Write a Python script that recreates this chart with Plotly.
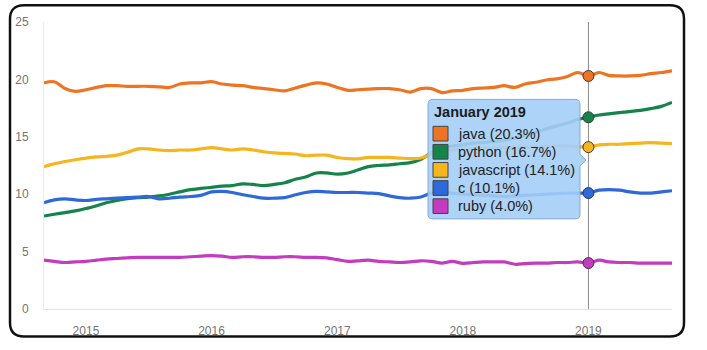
import pandas as pd
import plotly.graph_objects as go

# ---------------- data ----------------
months = pd.date_range("2014-09-01", "2019-09-01", freq="MS")

series_names = ["java", "python", "javascript", "c", "ruby"]
series_colors = ["#ee7424", "#16834a", "#f5b51f", "#2f68d8", "#c33bbf"]

java = [19.7, 19.8, 19.2, 18.95,
        19.1, 19.3, 19.45, 19.45, 19.4, 19.4, 19.4, 19.35, 19.3, 19.6, 19.7, 19.7,
        19.8, 19.6, 19.5, 19.45, 19.3, 19.2, 19.1, 19.0, 19.25, 19.5, 19.7, 19.6,
        19.3, 19.05, 19.1, 19.15, 19.2, 19.2, 19.1, 18.9, 19.2, 19.2, 18.85, 19.0,
        19.05, 19.2, 19.25, 19.3, 19.45, 19.3, 19.6, 19.75, 19.95, 20.05, 20.25, 20.6,
        20.3, 20.6, 20.35, 20.3, 20.3, 20.35, 20.5, 20.6, 20.75]
python = [8.1, 8.25, 8.4, 8.55,
          8.75, 9.0, 9.25, 9.45, 9.6, 9.7, 9.75, 9.85, 10.0, 10.2, 10.4, 10.5,
          10.6, 10.7, 10.75, 10.9, 10.85, 10.75, 10.85, 11.0, 11.3, 11.5, 11.85, 11.85,
          11.75, 11.85, 12.1, 12.4, 12.5, 12.55, 12.65, 12.75, 13.05, 13.6, 14.0, 14.2,
          14.3, 14.45, 14.5, 14.6, 14.7, 14.9, 15.1, 15.4, 15.7, 15.95, 16.2, 16.5,
          16.7, 16.9, 17.0, 17.1, 17.2, 17.3, 17.45, 17.65, 18.0]
javascript = [12.4, 12.65, 12.85, 13.0,
              13.15, 13.25, 13.3, 13.4, 13.65, 13.95, 13.95, 13.85, 13.8, 13.85, 13.85, 13.95,
              14.05, 13.95, 13.85, 13.95, 13.85, 13.7, 13.6, 13.55, 13.5, 13.35, 13.4, 13.4,
              13.2, 13.1, 13.08, 13.2, 13.2, 13.2, 13.15, 13.1, 13.15, 13.5, 13.8, 13.85,
              13.9, 13.95, 14.0, 14.0, 14.05, 14.1, 14.1, 14.15, 14.15, 14.2, 14.2, 14.15,
              14.1, 14.3, 14.35, 14.35, 14.4, 14.45, 14.5, 14.45, 14.4]
c = [9.25, 9.5, 9.6, 9.5,
     9.45, 9.55, 9.6, 9.65, 9.7, 9.75, 9.8, 9.6, 9.65, 9.75, 9.8, 9.9,
     10.2, 10.25, 10.15, 9.95, 9.8, 9.65, 9.65, 9.7, 9.95, 10.15, 10.25, 10.2,
     10.15, 10.15, 10.15, 10.1, 10.05, 9.85, 9.7, 9.65, 9.75, 10.1, 10.2, 10.1,
     10.0, 9.95, 9.9, 9.85, 9.8, 9.85, 9.9, 9.95, 10.0, 10.05, 10.1, 10.1,
     10.1, 10.35, 10.4, 10.35, 10.2, 10.1, 10.1, 10.2, 10.3]
ruby = [4.25, 4.15, 4.05, 4.1,
        4.15, 4.25, 4.35, 4.4, 4.45, 4.5, 4.5, 4.5, 4.5, 4.5, 4.55, 4.6,
        4.65, 4.6, 4.5, 4.55, 4.55, 4.5, 4.5, 4.55, 4.55, 4.5, 4.5, 4.45,
        4.3, 4.15, 4.2, 4.25, 4.15, 4.1, 4.05, 4.1, 4.2, 4.15, 4.0, 4.15,
        3.98, 4.05, 4.1, 4.1, 4.1, 3.9, 3.95, 4.0, 4.0, 4.05, 4.05, 4.1,
        4.0, 4.25, 4.1, 4.05, 4.05, 4.0, 4.0, 4.0, 4.0]

series_values = [java, python, javascript, c, ruby]

highlight_month = pd.Timestamp("2019-01-01")
highlight_title = "January 2019"
y_ticks = [0, 5, 10, 15, 20, 25]
x_ticks = ["2015-01-01", "2016-01-01", "2017-01-01", "2018-01-01", "2019-01-01"]
x_ticklabels = ["2015", "2016", "2017", "2018", "2019"]

# ---------------- layout helpers ----------------
W, H = 707, 350
L, R, T, B = 44, 35, 22, 35


def px(xp):
    return (xp - L) / (W - L - R)


def py(yp):
    return (H - B - yp) / (H - T - B)


FONT = "Liberation Sans, Arial, sans-serif"

fig = go.Figure()

for name, color, vals in zip(series_names, series_colors, series_values):
    fig.add_trace(go.Scatter(
        x=months, y=vals, mode="lines", name=name,
        line=dict(color=color, width=3.2, shape="spline", smoothing=1.0),
        hoverinfo="skip", showlegend=False,
    ))

hi = list(months).index(highlight_month)
fig.add_trace(go.Scatter(
    x=[highlight_month] * len(series_names),
    y=[v[hi] for v in series_values],
    mode="markers",
    marker=dict(size=11, color=series_colors, line=dict(color="#3a3a3a", width=1)),
    hoverinfo="skip", showlegend=False,
))

shapes = []
# vertical cursor line
shapes.append(dict(type="line", xref="x", yref="paper", x0=highlight_month, x1=highlight_month,
                   y0=0, y1=1, line=dict(color="#8a8a8a", width=1), layer="below"))

# outer rounded frame
x0, x1, y0, y1, r = 10, 684, 5, 343, 14
frame = (f"M {px(x0 + r)} {py(y0)} L {px(x1 - r)} {py(y0)} "
         f"Q {px(x1)} {py(y0)} {px(x1)} {py(y0 + r)} L {px(x1)} {py(y1 - r)} "
         f"Q {px(x1)} {py(y1)} {px(x1 - r)} {py(y1)} L {px(x0 + r)} {py(y1)} "
         f"Q {px(x0)} {py(y1)} {px(x0)} {py(y1 - r)} L {px(x0)} {py(y0 + r)} "
         f"Q {px(x0)} {py(y0)} {px(x0 + r)} {py(y0)} Z")
shapes.append(dict(type="path", xref="paper", yref="paper", path=frame,
                   line=dict(color="#111111", width=2.5), fillcolor="rgba(0,0,0,0)", layer="above"))

# tooltip box
tx0, tx1, ty0, ty1, tr = 428, 580, 101, 223, 5
tip = (f"M {px(tx0 + tr)} {py(ty0)} L {px(tx1 - tr)} {py(ty0)} "
       f"Q {px(tx1)} {py(ty0)} {px(tx1)} {py(ty0 + tr)} L {px(tx1)} {py(157)} "
       f"L {px(586)} {py(163)} L {px(tx1)} {py(169)} L {px(tx1)} {py(ty1 - tr)} "
       f"Q {px(tx1)} {py(ty1)} {px(tx1 - tr)} {py(ty1)} L {px(tx0 + tr)} {py(ty1)} "
       f"Q {px(tx0)} {py(ty1)} {px(tx0)} {py(ty1 - tr)} L {px(tx0)} {py(ty0 + tr)} "
       f"Q {px(tx0)} {py(ty0)} {px(tx0 + tr)} {py(ty0)} Z")
shapes.append(dict(type="path", xref="paper", yref="paper", path=tip,
                   line=dict(color="#86aad3", width=1), fillcolor="rgba(164,206,248,0.9)", layer="above"))

annotations = [dict(xref="paper", yref="paper", x=px(432), y=py(114), xanchor="left", yanchor="middle",
                    text=f"<b>{highlight_title}</b>", showarrow=False,
                    font=dict(family=FONT, size=14.5, color="#1c1c1c"))]

for i, (name, color, vals) in enumerate(zip(series_names, series_colors, series_values)):
    cy = 136 + 18.5 * i
    shapes.append(dict(type="rect", xref="paper", yref="paper",
                       x0=px(433), x1=px(448), y0=py(cy - 7.5), y1=py(cy + 7.5),
                       fillcolor=color, line=dict(color="#444444", width=1), layer="above"))
    annotations.append(dict(xref="paper", yref="paper", x=px(456), y=py(cy), xanchor="left", yanchor="middle",
                            text=f"{name} ({vals[hi]:.1f}%)", showarrow=False,
                            font=dict(family=FONT, size=14.5, color="#222222")))

fig.update_layout(
    width=W, height=H,
    margin=dict(l=L, r=R, t=T, b=B, pad=0),
    paper_bgcolor="white", plot_bgcolor="white",
    shapes=shapes, annotations=annotations,
    font=dict(family=FONT, size=12, color="#757575"),
    hovermode=False,
    xaxis=dict(range=[months[0], months[-1]], tickvals=x_ticks, ticktext=x_ticklabels,
               showgrid=False, zeroline=False, showline=True, linecolor="#e3e3e3", linewidth=1,
               ticks="", ticklabelstandoff=11, tickfont=dict(size=12, color="#757575")),
    yaxis=dict(range=[0, 25], tickvals=y_ticks, showgrid=False, zeroline=False,
               showline=True, linecolor="#ececec", linewidth=1,
               ticks="", ticklabelstandoff=12, tickfont=dict(size=12, color="#757575")),
)

fig.write_html("out.html")
